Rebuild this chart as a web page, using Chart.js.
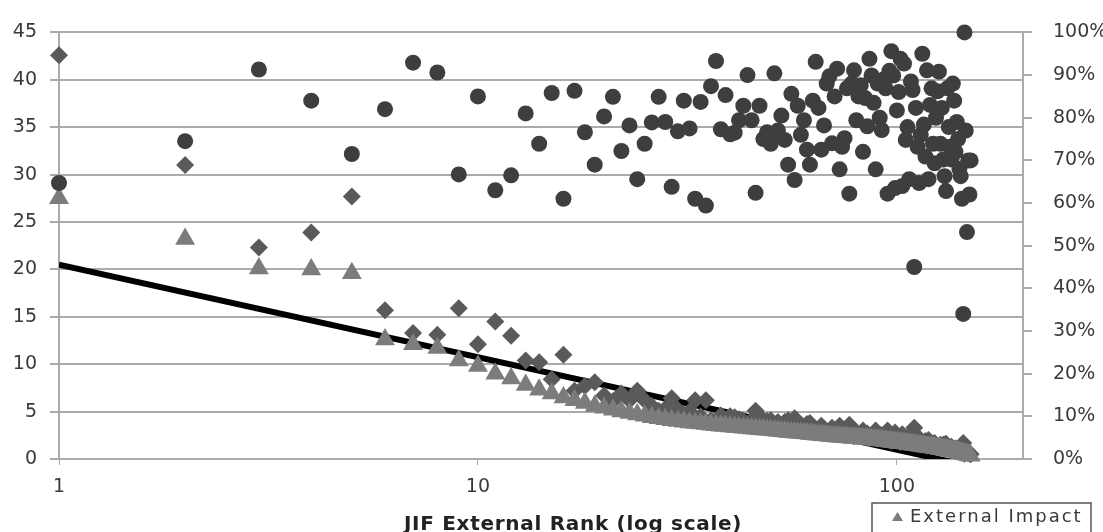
<!DOCTYPE html>
<html>
<head>
<meta charset="utf-8">
<title>External impact by JIF rank</title>
<script src="https://cdn.jsdelivr.net/npm/chart.js@4.4.0/dist/chart.umd.min.js"></script>
<style>
    html, body { margin: 0; padding: 0; background: #fff; overflow: hidden; }
    .chart-container { position: relative; width: 1103px; height: 532px; }
</style>
</head>
<body>
<div class="chart-container"><canvas id="chart"></canvas></div>
<script>
var ranks = [
    1, 2, 3, 4, 5, 6, 7, 8, 9, 10, 11, 12, 13, 14, 15, 16, 17, 18, 19, 20,
    21, 22, 23, 24, 25, 26, 27, 28, 29, 30, 31, 32, 33, 34, 35, 36, 37, 38, 39, 40,
    41, 42, 43, 44, 45, 46, 47, 48, 49, 50, 51, 52, 53, 54, 55, 56, 57, 58, 59, 60,
    61, 62, 63, 64, 65, 66, 67, 68, 69, 70, 71, 72, 73, 74, 75, 76, 77, 78, 79, 80,
    81, 82, 83, 84, 85, 86, 87, 88, 89, 90, 91, 92, 93, 94, 95, 96, 97, 98, 99, 100,
    101, 102, 103, 104, 105, 106, 107, 108, 109, 110, 111, 112, 113, 114, 115, 116, 117, 118, 119, 120,
    121, 122, 123, 124, 125, 126, 127, 128, 129, 130, 131, 132, 133, 134, 135, 136, 137, 138, 139, 140,
    141, 142, 143, 144, 145, 146, 147, 148, 149, 150
];

// external impact (left axis)
var externalImpact = [
    27.5, 23.2, 20.1, 20.0, 19.6, 12.6, 12.1, 11.7, 10.4, 9.8,
    9.0, 8.5, 7.8, 7.3, 6.9, 6.5, 6.2, 5.9, 5.6, 5.4,
    5.2, 5.0, 4.85, 4.7, 4.55, 4.4, 4.3, 4.2, 4.1, 4.0,
    3.93, 3.86, 3.8, 3.74, 3.68, 3.62, 3.57, 3.52, 3.47, 3.42,
    3.38, 3.34, 3.3, 3.26, 3.22, 3.18, 3.14, 3.11, 3.08, 3.05,
    3.01, 2.97, 2.93, 2.89, 2.86, 2.83, 2.8, 2.77, 2.74, 2.71,
    2.68, 2.65, 2.62, 2.59, 2.56, 2.53, 2.5, 2.47, 2.44, 2.41,
    2.39, 2.37, 2.35, 2.33, 2.31, 2.29, 2.27, 2.25, 2.23, 2.21,
    2.19, 2.17, 2.15, 2.13, 2.11, 2.09, 2.07, 2.05, 2.03, 2.01,
    1.98, 1.95, 1.93, 1.9, 1.88, 1.85, 1.83, 1.8, 1.78, 1.75,
    1.73, 1.7, 1.68, 1.65, 1.63, 1.6, 1.58, 1.55, 1.53, 1.5,
    1.48, 1.45, 1.43, 1.4, 1.38, 1.35, 1.33, 1.3, 1.28, 1.25,
    1.23, 1.2, 1.18, 1.15, 1.13, 1.1, 1.08, 1.05, 1.03, 1.0,
    0.98, 0.95, 0.93, 0.9, 0.88, 0.85, 0.83, 0.8, 0.78, 0.75,
    0.71, 0.67, 0.63, 0.59, 0.55, 0.51, 0.47, 0.43, 0.39, 0.35
];

// journal impact factor (left axis)
var jifValues = [
    42.6, 31.0, 22.3, 23.9, 27.7, 15.7, 13.3, 13.1, 15.9, 12.1,
    14.5, 13.0, 10.4, 10.2, 8.4, 11.0, 7.2, 7.7, 8.1, 6.7,
    6.1, 6.9, 6.2, 7.2, 6.2, 5.6, 5.1, 5.3, 6.4, 5.2,
    4.7, 5.0, 6.2, 4.5, 6.2, 4.1, 3.8, 4.6, 4.1, 4.5,
    4.4, 4.2, 4.0, 3.6, 4.1, 5.1, 3.8, 4.1, 4.0, 4.1,
    3.3, 3.9, 3.6, 3.9, 4.1, 3.3, 4.3, 3.3, 3.6, 3.4,
    3.7, 3.8, 3.1, 2.8, 3.1, 3.5, 3.2, 2.8, 2.7, 3.3,
    2.8, 2.6, 3.5, 3.2, 3.1, 2.6, 3.6, 2.6, 2.4, 2.8,
    2.6, 2.5, 3.0, 2.5, 2.7, 2.2, 2.3, 2.5, 3.0, 2.3,
    2.5, 2.5, 2.2, 2.2, 3.0, 2.0, 1.9, 2.0, 2.8, 2.1,
    2.0, 1.8, 2.6, 1.8, 2.2, 2.1, 2.4, 1.8, 1.8, 3.3,
    1.8, 2.0, 2.2, 1.8, 1.5, 1.7, 1.9, 1.4, 2.0, 1.5,
    1.4, 1.6, 1.7, 1.4, 1.3, 1.2, 1.5, 1.3, 1.5, 1.5,
    1.6, 1.1, 1.2, 1.2, 1.3, 1.0, 1.0, 1.1, 1.0, 1.0,
    1.0, 1.0, 1.0, 1.7, 0.55, 0.7, 0.9, 0.6, 0.6, 0.5
];

// external share of citations, percent (right axis)
var externalShare = [
    64.7, 74.5, 91.3, 84, 71.5, 82, 92.9, 90.6, 66.7, 85,
    63, 66.5, 81, 73.9, 85.8, 61, 86.3, 76.6, 69, 80.3,
    84.9, 72.2, 78.2, 65.6, 73.9, 78.9, 84.9, 79, 63.8, 76.8,
    84, 77.5, 61, 83.7, 59.4, 87.4, 93.3, 77.3, 85.3, 76.1,
    76.5, 79.4, 82.8, 90, 79.4, 62.4, 82.8, 75, 76.6, 73.9,
    90.4, 77, 80.5, 74.8, 69, 85.6, 65.4, 82.8, 76, 79.4,
    72.5, 69, 84, 93.1, 82.3, 72.5, 78.2, 88, 89.7, 74,
    85, 91.5, 67.9, 73.2, 75.2, 86.9, 62.2, 88, 91.1, 79.4,
    85, 87.6, 72, 84.6, 78, 93.8, 89.9, 83.5, 67.9, 88,
    80, 77.1, 89, 86.9, 62.2, 91, 95.6, 89.9, 63.5, 81.7,
    86, 93.8, 64, 92.7, 74.8, 77.8, 65.6, 88.5, 86.5, 45,
    82.3, 73.2, 64.7, 76, 95, 78.4, 70.9, 91.1, 65.6, 83,
    86.9, 73.9, 69.3, 80, 86.2, 90.8, 73.9, 82.3, 70.2, 66.3,
    62.8, 86.9, 77.8, 73.2, 70.2, 88, 84, 72, 79, 75,
    68, 66.3, 61, 34, 100, 77, 53.2, 70, 62, 70
];

// logarithmic trend of external impact, end points
var trendRanks = [1, 152];
var trendValues = [20.5, -0.8];

var rankTicks = [1, 10, 100];
var axisTitle = 'JIF External Rank (log scale)';

var gridColor = '#ababab';
var textColor = '#3a3a3a';
var tickFont = { family: 'DejaVu Sans', size: 19 };

function toPoints(xs, ys) {
    return xs.map(function (x, i) {
        return { x: x, y: ys[i] };
    });
}

// axis title and the boxed legend below the plot
var bottomLabels = {
    id: 'bottomLabels',
    afterDraw: function (chart) {
        var ctx = chart.ctx;
        ctx.save();

        ctx.font = 'bold 20px "DejaVu Sans"';
        ctx.letterSpacing = '0.7px';
        ctx.fillStyle = '#222';
        ctx.textAlign = 'center';
        ctx.textBaseline = 'alphabetic';
        ctx.fillText(axisTitle, 573, 530);

        var ds = chart.data.datasets[1];
        ctx.strokeStyle = '#555';
        ctx.lineWidth = 1.5;
        ctx.strokeRect(872, 503, 219, 45);

        ctx.fillStyle = ds.backgroundColor;
        ctx.beginPath();
        ctx.moveTo(892, 521);
        ctx.lineTo(897.5, 512);
        ctx.lineTo(903, 521);
        ctx.closePath();
        ctx.fill();

        ctx.font = '18px "DejaVu Sans"';
        ctx.letterSpacing = '2px';
        ctx.fillStyle = textColor;
        ctx.textAlign = 'left';
        ctx.fillText(ds.label, 910, 522);
        ctx.restore();
    }
};

window.onload = function () {
    var ctx = document.getElementById('chart').getContext('2d');
    new Chart(ctx, {
        type: 'scatter',
        data: {
            datasets: [{
                label: 'Share of external citations',
                data: toPoints(ranks, externalShare),
                yAxisID: 'y2',
                pointStyle: 'circle',
                pointRadius: 8,
                backgroundColor: '#3e3e3e',
                borderWidth: 0,
                clip: false,
                order: 1
            }, {
                label: 'External Impact',
                data: toPoints(ranks, externalImpact),
                yAxisID: 'y',
                pointStyle: 'triangle',
                pointRadius: 11.5,
                backgroundColor: '#7c7c7c',
                borderWidth: 0,
                clip: false,
                order: 2
            }, {
                label: 'Journal Impact Factor',
                data: toPoints(ranks, jifValues),
                yAxisID: 'y',
                pointStyle: 'rectRot',
                pointRadius: 9,
                backgroundColor: '#5a5a5a',
                borderWidth: 0,
                clip: false,
                order: 3
            }, {
                label: 'Log. (External Impact)',
                data: toPoints(trendRanks, trendValues),
                yAxisID: 'y',
                showLine: true,
                borderColor: '#000',
                borderWidth: 6,
                pointRadius: 0,
                order: 4
            }]
        },
        options: {
            responsive: true,
            maintainAspectRatio: false,
            animation: false,
            layout: {
                padding: { top: 23, right: 0, bottom: 0, left: 0 }
            },
            plugins: {
                legend: { display: false },
                tooltip: { enabled: false }
            },
            scales: {
                x: {
                    type: 'logarithmic',
                    position: 'bottom',
                    min: 1,
                    max: 200,
                    afterBuildTicks: function (scale) {
                        scale.ticks = rankTicks.map(function (v) { return { value: v }; });
                    },
                    afterFit: function (scale) { scale.height = 73; },
                    grid: {
                        drawOnChartArea: false,
                        drawTicks: true,
                        tickLength: 6,
                        color: gridColor
                    },
                    border: { display: false },
                    ticks: {
                        font: tickFont,
                        color: textColor,
                        padding: 11,
                        autoSkip: false,
                        maxRotation: 0,
                        callback: function (value) { return String(value); }
                    }
                },
                y: {
                    position: 'left',
                    min: 0,
                    max: 45,
                    afterFit: function (scale) { scale.width = 59; },
                    grid: {
                        color: gridColor,
                        lineWidth: 2,
                        tickLength: 9
                    },
                    border: { display: true, color: gridColor, width: 2 },
                    ticks: {
                        stepSize: 5,
                        font: tickFont,
                        color: textColor,
                        padding: 13
                    }
                },
                y2: {
                    position: 'right',
                    min: 0,
                    max: 100,
                    afterFit: function (scale) { scale.width = 80; },
                    grid: {
                        drawOnChartArea: false,
                        color: gridColor,
                        lineWidth: 2,
                        tickLength: 9
                    },
                    border: { display: true, color: gridColor, width: 2 },
                    ticks: {
                        stepSize: 10,
                        font: tickFont,
                        color: textColor,
                        padding: 21,
                        callback: function (value) { return value + '%'; }
                    }
                }
            }
        },
        plugins: [bottomLabels]
    });
};
</script>
</body>
</html>
